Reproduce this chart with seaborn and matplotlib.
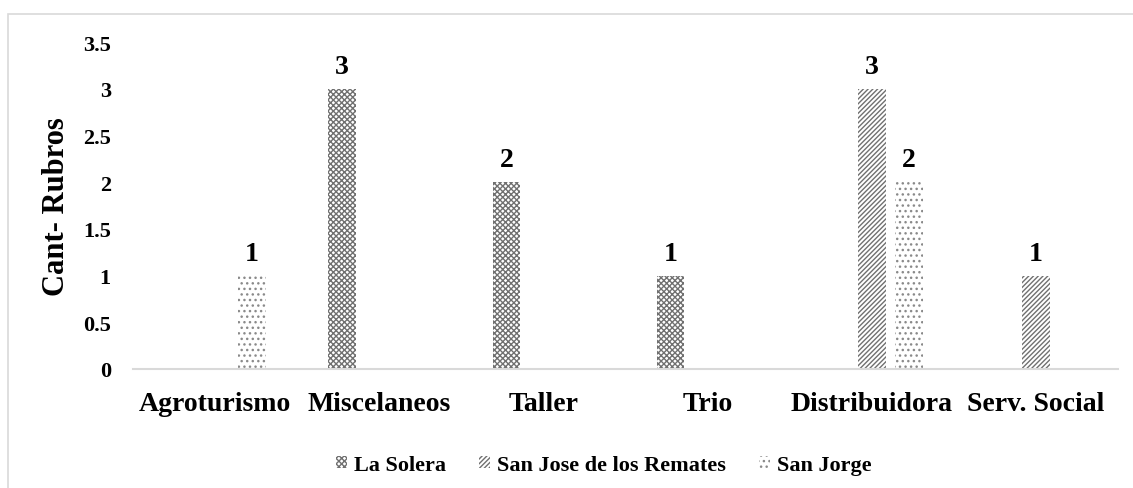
import numpy as np
import pandas as pd
import matplotlib.pyplot as plt
from matplotlib.patches import Patch, Rectangle
import seaborn as sns

categories = ["Agroturismo", "Miscelaneos", "Taller", "Trio", "Distribuidora", "Serv. Social"]
series = ["La Solera", "San Jose de los Remates", "San Jorge"]
la_solera = [0, 3, 2, 1, 0, 0]
san_jose = [0, 0, 0, 0, 3, 1]
san_jorge = [1, 0, 0, 0, 2, 0]
yticks = [0, 0.5, 1, 1.5, 2, 2.5, 3, 3.5]

df = pd.DataFrame({
    "rubro": categories * 3,
    "zona": [s for s in series for _ in categories],
    "cant": la_solera + san_jose + san_jorge,
})

sns.set_style("white")
plt.rcParams["font.family"] = ["Liberation Serif", "DejaVu Serif"]
plt.rcParams["font.weight"] = "bold"
plt.rcParams["hatch.linewidth"] = 1.0
for k in ["text.color", "axes.labelcolor", "xtick.color", "ytick.color"]:
    plt.rcParams[k] = "black"

fig = plt.figure(figsize=(11.33, 4.89), dpi=100)
ax = fig.add_axes([133 / 1133, 119 / 489, 985 / 1133, 327 / 489])

sns.barplot(data=df, x="rubro", y="cant", hue="zona", order=categories,
            hue_order=series, palette=["white"] * 3, width=0.675, gap=0.25,
            legend=False, ax=ax)

hatches = ["xxxxxx", "///////", "..."]
edge_cols = ["#707070", "#707070", "#8a8a8a"]
for cont, h, ec in zip(ax.containers, hatches, edge_cols):
    for bar in cont:
        bar.set_hatch(h)
        bar.set_edgecolor(ec)
        bar.set_linewidth(0)
    labels = [f"{v:g}" if v > 0 else "" for v in cont.datavalues]
    ax.bar_label(cont, labels=labels, padding=7, fontsize=20, fontweight="bold")

ax.set_ylim(0, 3.5)
ax.set_yticks(yticks)
ax.set_yticklabels([f"{t:g}" for t in yticks], fontsize=16, fontweight="bold")
ax.tick_params(axis="y", length=0, pad=16)
ax.tick_params(axis="x", length=0, pad=16, labelsize=20)
for lab in ax.get_xticklabels():
    lab.set_fontweight("bold")
ax.set_xlabel("")
ax.set_ylabel("Cant- Rubros", fontsize=22, fontweight="bold")
ax.yaxis.set_label_coords(-0.063, 0.5)

for s in ["top", "right", "left"]:
    ax.spines[s].set_visible(False)
ax.spines["bottom"].set_color("#d9d9d9")
ax.spines["bottom"].set_linewidth(1.5)

handles = [Patch(facecolor="white", edgecolor=ec, hatch=h, linewidth=0, label=s)
           for s, h, ec in zip(series, hatches, edge_cols)]
fig.legend(handles=handles, loc="center", bbox_to_anchor=(604 / 1133, 1 - 466 / 489),
           ncol=3, frameon=False, prop={"size": 16, "weight": "bold"},
           handlelength=0.5, handleheight=0.5, handletextpad=0.3, columnspacing=1.5)

fig.patches.append(Rectangle((8 / 1133, -0.05), 1.05, (489 - 15) / 489 + 0.05,
                             transform=fig.transFigure, fill=False,
                             edgecolor="#d9d9d9", linewidth=1.2))

fig.savefig("out.png", dpi=100)
